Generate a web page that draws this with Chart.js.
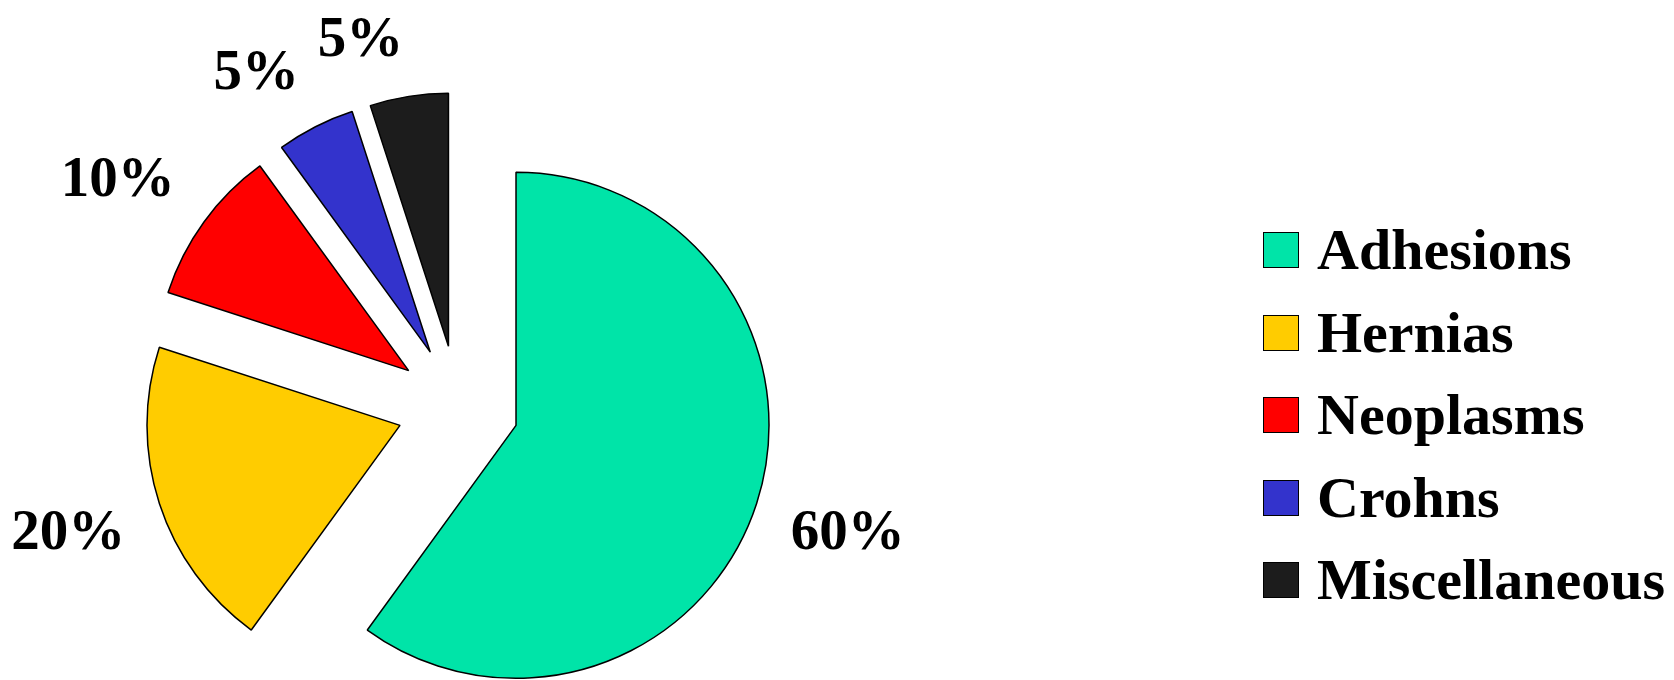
<!DOCTYPE html>
<html>
<head>
<meta charset="utf-8">
<title>Causes of obstruction</title>
<script src="https://cdn.jsdelivr.net/npm/chart.js"></script>
<style>
  body { margin: 0; background: #fff; }
  #wrap { position: relative; width: 1674px; height: 680px; }
  #legend {
    position: absolute; left: 1263px; top: 208.75px;
    font: bold 58px "Liberation Serif", "Times New Roman", serif; color: #000;
  }
  #legend .row { display: flex; align-items: center; height: 82.5px; line-height: 1; white-space: nowrap; }
  #legend .box { width: 34px; height: 34px; border: 1.5px solid #000; margin-right: 18px; flex: none; }
</style>
</head>
<body>
<div id="wrap">
  <canvas id="causesChart"></canvas>
  <div id="legend"></div>
</div>
<script>
const causes = ['Adhesions', 'Hernias', 'Neoplasms', 'Crohns', 'Miscellaneous'];
const percents = [60, 20, 10, 5, 5];
const sliceColors = ['#00E4A8', '#FFCC00', '#FF0000', '#3333CC', '#1C1C1C'];

const EXPLODE = 61;   // every slice pulled out from the centre
const LABEL_GAP = 350; // nearest corner of a % label sits this far out on the slice's middle ray
const LABEL_SIZE = 57;

// pie slice that is simply shifted out along its middle angle
class ExplodedArc extends Chart.ArcElement {
  draw(ctx) {
    const mid = (this.startAngle + this.endAngle) / 2;
    ctx.save();
    ctx.translate(Math.cos(mid) * EXPLODE, Math.sin(mid) * EXPLODE);
    super.draw(ctx);
    ctx.restore();
  }
}
ExplodedArc.id = 'explodedArc';

class ExplodedPie extends Chart.PieController {}
ExplodedPie.id = 'explodedPie';
ExplodedPie.defaults = { dataElementType: 'explodedArc' };

Chart.register(ExplodedArc, ExplodedPie);

// % labels outside the slices
const pctLabels = {
  id: 'pctLabels',
  afterDatasetsDraw(chart) {
    const ctx = chart.ctx;
    const arcs = chart.getDatasetMeta(0).data;
    ctx.save();
    ctx.font = 'bold ' + LABEL_SIZE + 'px "Liberation Serif", serif';
    ctx.fillStyle = '#000';
    ctx.textAlign = 'center';
    ctx.textBaseline = 'middle';
    arcs.forEach((arc, i) => {
      const text = percents[i] + '%';
      const mid = (arc.startAngle + arc.endAngle) / 2;
      const cx = Math.cos(mid), cy = Math.sin(mid);
      const w = ctx.measureText(text).width;
      const h = LABEL_SIZE * 0.7;
      const x = arc.x + cx * LABEL_GAP + Math.sign(cx) * w / 2;
      const y = arc.y + cy * LABEL_GAP + Math.sign(cy) * h / 2;
      ctx.fillText(text, x, y);
    });
    ctx.restore();
  }
};

new Chart(document.getElementById('causesChart'), {
  type: 'explodedPie',
  data: {
    labels: causes,
    datasets: [{
      data: percents,
      backgroundColor: sliceColors,
      borderColor: '#000',
      borderWidth: 1.5
    }]
  },
  options: {
    animation: false,
    responsive: true,
    maintainAspectRatio: false,
    radius: 253,
    layout: { padding: { top: 133, right: 758 } },
    plugins: {
      legend: { display: false },
      tooltip: { enabled: false }
    }
  },
  plugins: [pctLabels]
});

// legend on the right
const legend = document.getElementById('legend');
causes.forEach((name, i) => {
  const row = document.createElement('div');
  row.className = 'row';
  row.innerHTML = '<span class="box" style="background:' + sliceColors[i] + '"></span>' + name;
  legend.appendChild(row);
});
</script>
</body>
</html>
